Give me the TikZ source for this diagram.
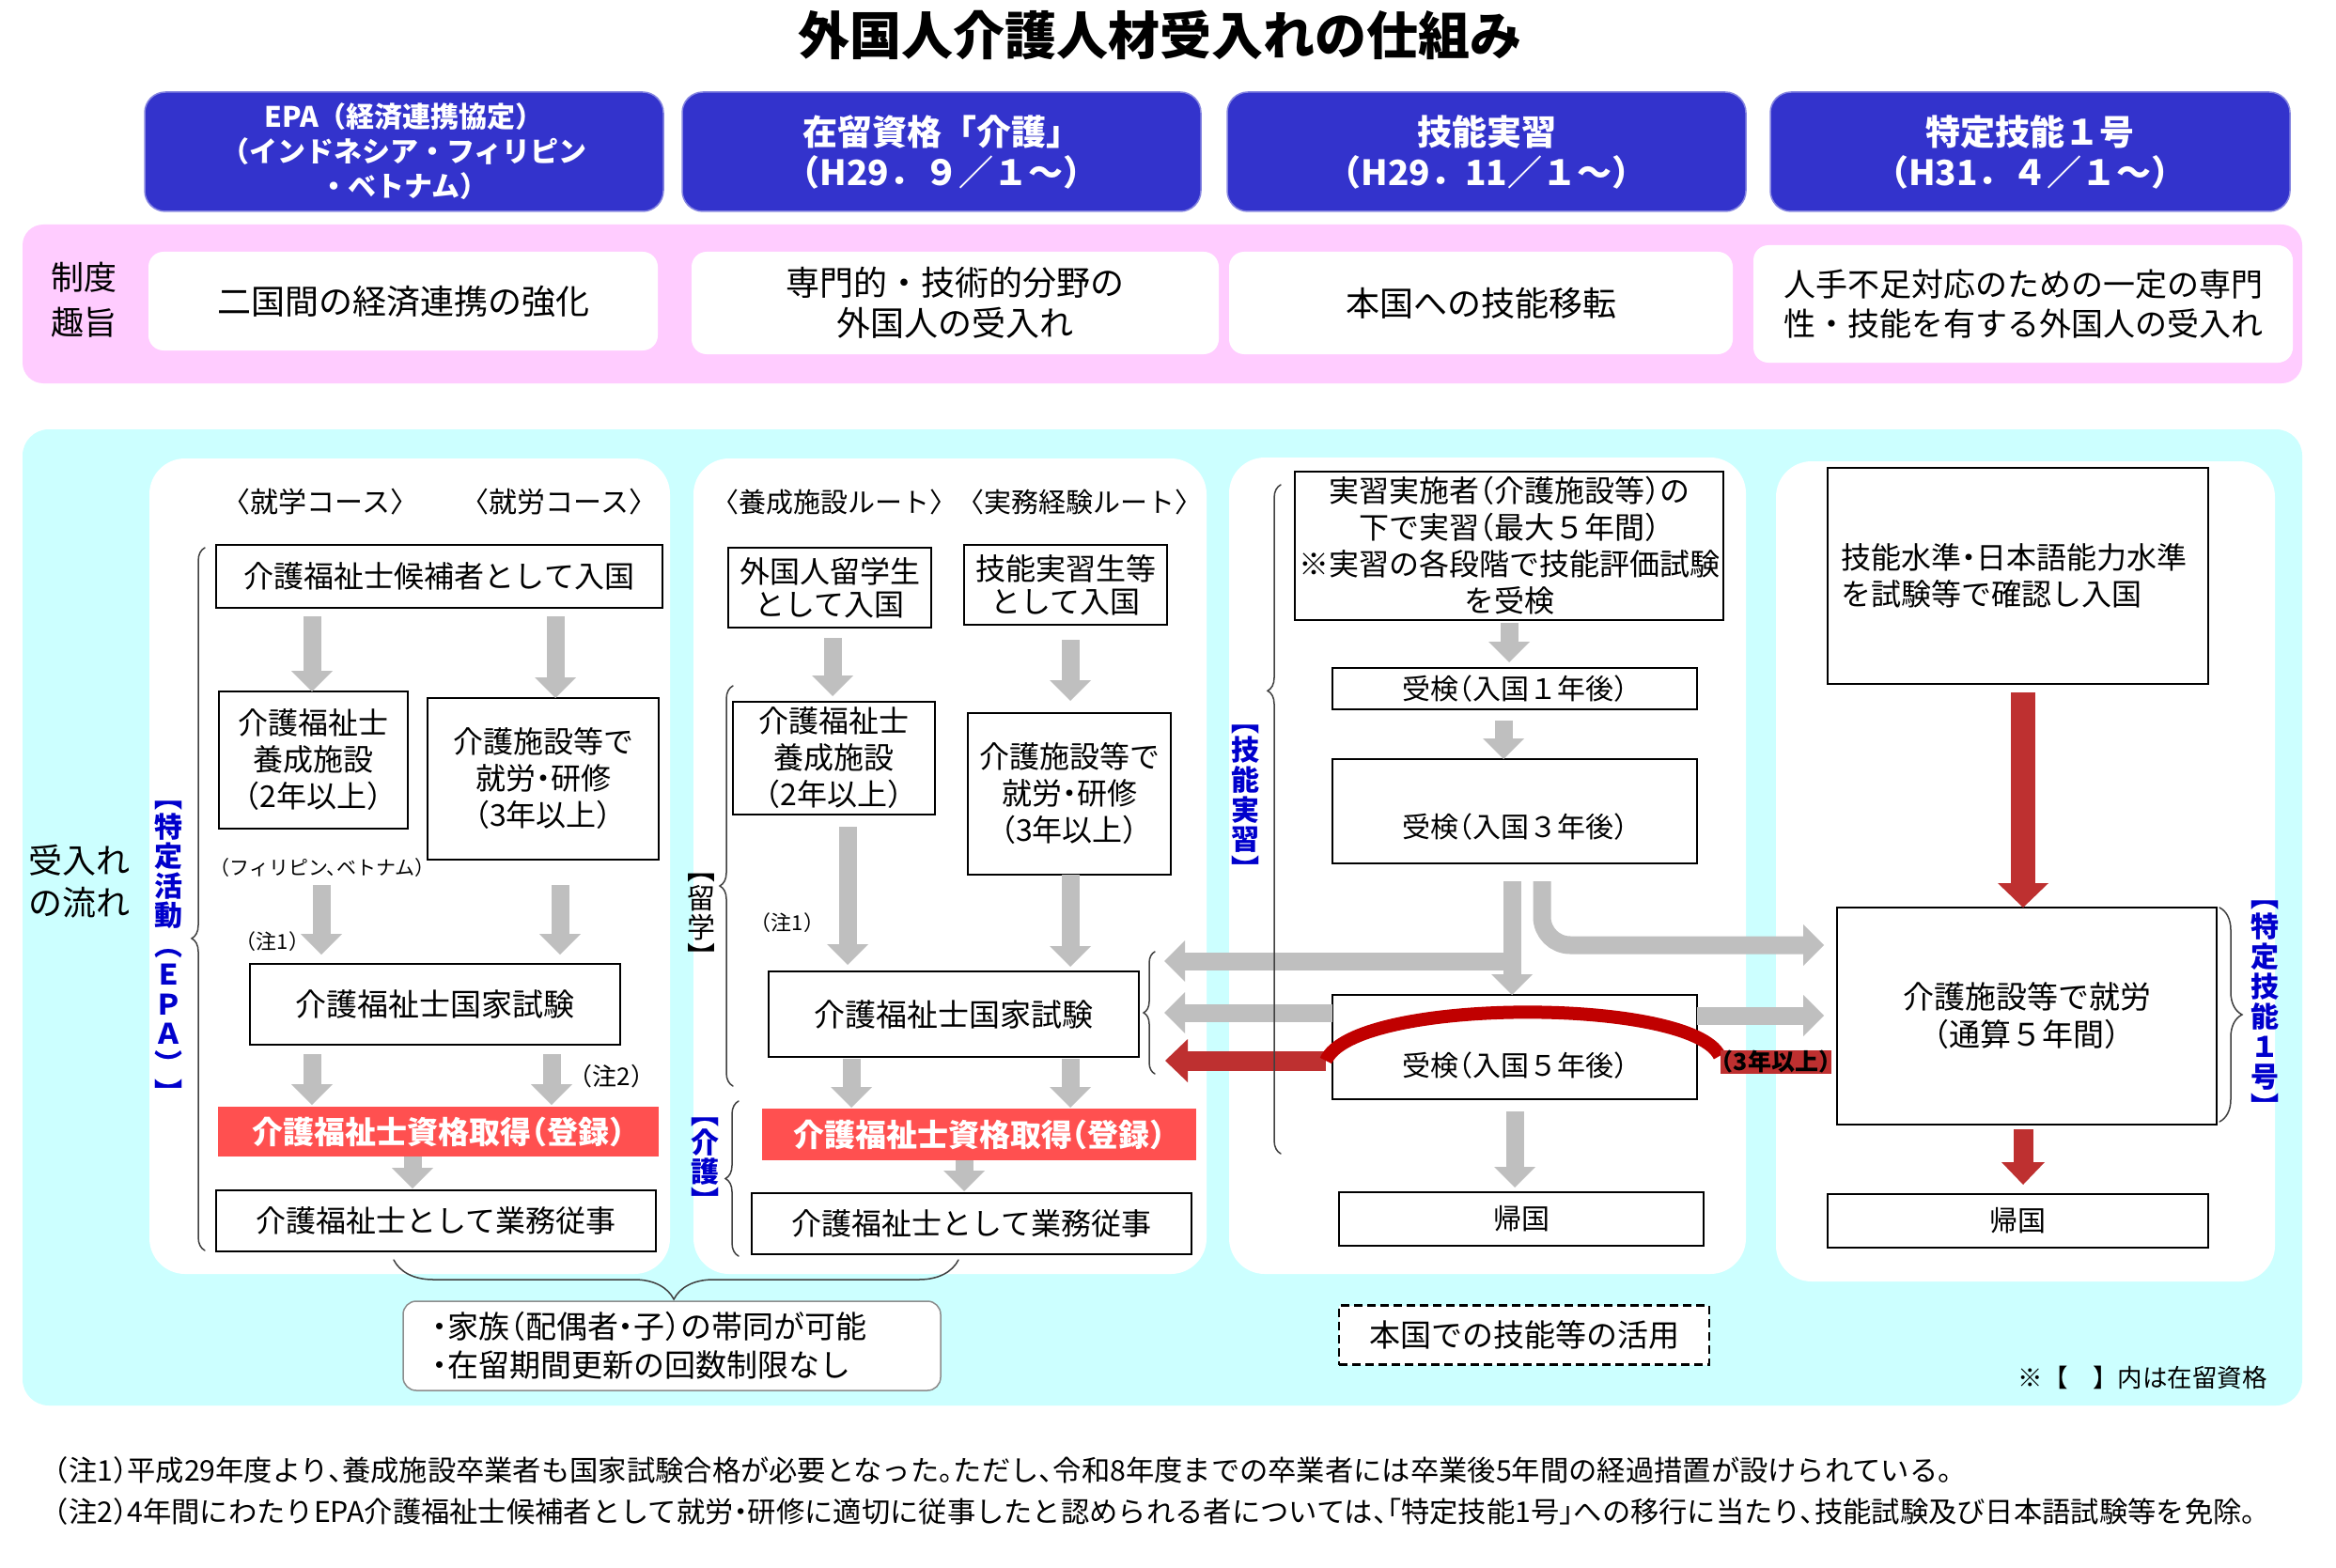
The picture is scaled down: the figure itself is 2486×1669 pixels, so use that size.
\documentclass[tikz,border=0pt]{standalone}
\usepackage{fontspec}
\setmainfont{Noto Sans CJK JP}
\newfontfamily\jh{Noto Sans CJK JP}[RawFeature=+halt]
\usetikzlibrary{arrows.meta,decorations.pathreplacing}
\newcommand\fsz[2]{\fontsize{#1pt}{#2pt}\selectfont}
\definecolor{hblue}{RGB}{51,51,204}
\definecolor{pinkbg}{RGB}{255,204,255}
\definecolor{cyanbg}{RGB}{204,255,255}
\definecolor{redbox}{RGB}{255,80,80}
\definecolor{garr}{RGB}{191,191,191}
\definecolor{darr}{RGB}{190,48,48}
\definecolor{arcred}{RGB}{192,0,0}
\definecolor{lblue}{RGB}{0,0,204}
\tikzset{
  hdr/.style={fill=hblue, draw=hblue!60!white, line width=1.5pt, rounded corners=22pt, text=white, align=center, font=\bfseries\fsz{37}{43}},
  pwbox/.style={fill=white, rounded corners=16pt, align=center, font=\fsz{36}{43}},
  panel/.style={fill=white, rounded corners=38pt},
  bx/.style={draw=black, line width=2.5pt, fill=white, align=center, font=\jh\fsz{32}{39}},
  rbox/.style={fill=redbox, text=white, align=center, font=\jh\bfseries\fsz{33}{36}},
  garrow/.style={draw=garr, line width=19pt, -{Triangle[width=44pt,length=22pt,line width=0pt]}},
  rarrow/.style={draw=darr, line width=21pt, -{Triangle[width=46pt,length=24pt,line width=0pt]}},
  bluev/.style={text=lblue, align=center, font=\bfseries\fsz{30}{31.5}},
  brc/.style={draw=black!75, line width=1.5pt, line cap=round, decorate},
  lbl/.style={font=\fsz{30}{32}},
}
\begin{document}
\begin{tikzpicture}[x=1pt,y=-1pt, every node/.style={inner sep=0pt, outer sep=0pt}]
\useasboundingbox (0,0) rectangle (2486,1669);
\fill[white] (0,0) rectangle (2486,1669);

% title
\node[font=\bfseries\fsz{55}{60}] (title) at (1234,37) {外国人介護人材受入れの仕組み};

% headers
\node[hdr, minimum width=552, minimum height=127, font=\bfseries\fsz{30}{37}] (h1) at (430,161.5) {EPA（経済連携協定）\\（インドネシア・フィリピン\\・ベトナム）};
\node[hdr, minimum width=552, minimum height=127] (h2) at (1002,161.5) {在留資格「介護」\\（H29．９／１～）};
\node[hdr, minimum width=552, minimum height=127] (h3) at (1582,161.5) {技能実習\\（H29．11／１～）};
\node[hdr, minimum width=553, minimum height=127] (h4) at (2160.5,161.5) {特定技能１号\\（H31．４／１～）};

% pink band
\fill[pinkbg, rounded corners=22pt] (24,239) rectangle (2450,408);
\node[font=\fsz{35}{48}, align=center] (seido) at (89,319) {制度\\趣旨};
\node[pwbox, minimum width=542, minimum height=105] (w1) at (429,320.5) {二国間の経済連携の強化};
\node[pwbox, minimum width=561, minimum height=109] (w2) at (1016.5,322.5) {専門的・技術的分野の\\外国人の受入れ};
\node[pwbox, minimum width=536, minimum height=109] (w3) at (1576,322.5) {本国への技能移転};
\node[pwbox, minimum width=574, minimum height=125, font=\fsz{34}{42}] (w4) at (2153,323.5) {人手不足対応のための一定の専門\\性・技能を有する外国人の受入れ};

% cyan band
\fill[cyanbg, rounded corners=28pt] (24,457) rectangle (2450,1496);
\node[font=\fsz{36}{45}, align=left] (ukeire) at (84,938) {受入れ\\の流れ};

% panels
\path[panel] (159,488) rectangle (713,1356);
\path[panel] (738,488) rectangle (1284,1356);
\path[panel] (1308,487) rectangle (1858,1356);
\path[panel] (1890,491) rectangle (2421,1364);

% ---------- panel 1 ----------
\node[lbl] (c1) at (341,534) {〈就学コース〉};
\node[lbl] (c2) at (595,534) {〈就労コース〉};
\node[bx, minimum width=475, minimum height=67] (e1) at (467.5,613.5) {介護福祉士候補者として入国};
\node[bx, minimum width=201, minimum height=146] (y1) at (333.5,809) {介護福祉士\\養成施設\\（2年以上）};
\node[bx, minimum width=246, minimum height=172] (s1) at (578,829) {介護施設等で\\就労・研修\\（3年以上）};
\node[font=\jh\fsz{21}{23}] (ph) at (343,924) {（フィリピン、ベトナム）};
\node[font=\jh\fsz{22}{24}] (n1a) at (290,1002) {（注1）};
\node[bx, minimum width=394, minimum height=86, font=\jh\fsz{33}{36}] (x1) at (463,1069) {介護福祉士国家試験};
\node[font=\jh\fsz{26}{28}] (n2) at (651,1146) {（注2）};
\node[rbox, minimum width=469, minimum height=53] (r1) at (466.5,1204.5) {介護福祉士資格取得（登録）};
\node[bx, minimum width=468, minimum height=65] (k1) at (464,1299.5) {介護福祉士として業務従事};

\coordinate (cA) at (332,0);
\coordinate (cB) at (591,0);
\coordinate (cC) at (342,0);
\coordinate (cD) at (596,0);
\coordinate (cE) at (587,0);
\coordinate (cF) at (439,0);
\draw[garrow, shorten <=9pt] (e1.south -| cA) -- (y1.north -| cA);
\draw[garrow, shorten <=9pt] (e1.south -| cB) -- (s1.north -| cB);
\draw[garrow, shorten <=60pt, shorten >=10pt] (y1.south -| cC) -- (x1.north -| cC);
\draw[garrow, shorten <=27pt, shorten >=10pt] (s1.south -| cD) -- (x1.north -| cD);
\draw[garrow, shorten <=10pt, shorten >=2pt] (x1.south -| cA) -- (r1.north -| cA);
\draw[garrow, shorten <=10pt, shorten >=2pt] (x1.south -| cE) -- (r1.north -| cE);
\draw[garrow, shorten >=2pt] (r1.south -| cF) -- (k1.north -| cF);

\node[bluev] (l1) at (179,1014) {︻\\特\\定\\活\\動\\︵\\Ｅ\\Ｐ\\Ａ\\︶\\︼};

% ---------- panel 2 ----------
\node[lbl, font=\fsz{29}{31}] (c3) at (888,534) {〈養成施設ルート〉};
\node[lbl, font=\fsz{29}{31}] (c4) at (1149,534) {〈実務経験ルート〉};
\node[bx, minimum width=216, minimum height=85, font=\jh\fsz{32}{35}] (e2) at (883,625.5) {外国人留学生\\として入国};
\node[bx, minimum width=216, minimum height=85, font=\jh\fsz{32}{35}] (e3) at (1134,622.5) {技能実習生等\\として入国};
\node[bx, minimum width=215, minimum height=120] (y2) at (887.5,807) {介護福祉士\\養成施設\\（2年以上）};
\node[bx, minimum width=216, minimum height=172] (s2) at (1138,845) {介護施設等で\\就労・研修\\（3年以上）};
\node[font=\jh\fsz{22}{24}] (n1b) at (838,982) {（注1）};
\node[bx, minimum width=394, minimum height=91, font=\jh\fsz{33}{36}] (x2) at (1015,1079.5) {介護福祉士国家試験};
\node[rbox, minimum width=462, minimum height=55] (r2) at (1042,1207.5) {介護福祉士資格取得（登録）};
\node[bx, minimum width=468, minimum height=65] (k2) at (1034,1302.5) {介護福祉士として業務従事};

\coordinate (cG) at (886,0);
\coordinate (cH) at (1139,0);
\coordinate (cI) at (902,0);
\coordinate (cJ) at (906,0);
\coordinate (cK) at (1026,0);
\draw[garrow, shorten <=11pt, shorten >=6pt] (e2.south -| cG) -- (y2.north -| cG);
\draw[garrow, shorten <=16pt, shorten >=13pt] (e3.south -| cH) -- (s2.north -| cH);
\draw[garrow, shorten <=13pt, shorten >=7pt] (y2.south -| cI) -- (x2.north -| cI);
\draw[garrow, shorten >=5pt] (s2.south -| cH) -- (x2.north -| cH);
\draw[garrow, shorten <=2pt, shorten >=1pt] (x2.south -| cJ) -- (r2.north -| cJ);
\draw[garrow, shorten <=2pt, shorten >=1pt] (x2.south -| cH) -- (r2.north -| cH);
\draw[garrow, shorten >=2pt] (r2.south -| cK) -- (k2.north -| cK);

\node[font=\fsz{30}{31}, align=center] (l2) at (746,980) {︻\\留\\学\\︼};
\node[bluev, font=\bfseries\fsz{30}{31}] (l3) at (750,1240) {︻\\介\\護\\︼};

% ---------- panel 3 ----------
\node[bx, minimum width=456, minimum height=158] (j1) at (1606,581) {実習実施者（介護施設等）の\\下で実習（最大５年間）\\※実習の各段階で技能評価試験\\を受検};
\node[bx, minimum width=388, minimum height=44, font=\jh\fsz{30}{32}] (j2) at (1612,733) {受検（入国１年後）};
\node[bx, minimum width=388, minimum height=111] (j3) at (1612,863.5) {};
\node[font=\jh\fsz{30}{32}] (j3t) at (1612,880) {受検（入国３年後）};
\node[bx, minimum width=388, minimum height=111] (j5) at (1612,1114.5) {};
\node[font=\jh\fsz{30}{32}] (j5t) at (1612,1134) {受検（入国５年後）};
\node[bx, minimum width=388, minimum height=57, font=\jh\fsz{30}{32}] (kk3) at (1619,1297.5) {帰国};
\node[draw=black, line width=2.5pt, dash pattern=on 9pt off 5pt, fill=white, minimum width=394, minimum height=63, font=\fsz{33}{35}] (dash) at (1622,1421) {本国での技能等の活用};

\coordinate (cL) at (1606,0);
\coordinate (cM) at (1600,0);
\coordinate (tk) at (1609,0);
\coordinate (ct) at (1641,0);
\coordinate (lt1) at (1239,1023);
\coordinate (lt2) at (1239,1078);
\coordinate (lt3) at (1240,1129);
\coordinate (rt1) at (1941,1006);
\coordinate (rt2) at (1941,1081);
\coordinate (arR) at (1830,1124);
\coordinate (arL) at (1411,1129);
\coordinate (cP) at (1612,0);

\draw[garrow, shorten <=3pt, shorten >=6pt] (j1.south -| cL) -- (j2.north -| cL);
\draw[garrow, shorten <=12pt] (j2.south -| cM) -- (j3.north -| cM);
\draw[garrow, shorten <=19pt] (j3.south -| tk) -- (j5.north -| tk);
\draw[garrow] (tk |- lt1) -- (lt1);
\draw[garrow, rounded corners=30pt, shorten <=19pt] (j3.south -| ct) -- (ct |- rt1) -- (rt1);
\draw[garrow] (j5.west |- lt2) -- (lt2);
\draw[garrow] (j5.east |- rt2) -- (rt2);
\draw[garrow, shorten <=13pt, shorten >=5pt] (j5.south -| cP) -- (kk3.north -| cP);

% red route
\draw[rarrow] (arL) -- (lt3);
\draw[arcred, line width=14pt] (arR) .. controls (1800,1061) and (1440,1061) .. (arL);
\node[fill=darr, font=\jh\bfseries\fsz{25}{27}, minimum height=25, inner xsep=1pt] (y3) at (1890,1130) {（3年以上）};

\node[bluev, font=\bfseries\fsz{30}{31.6}] (l4) at (1325,854) {︻\\技\\能\\実\\習\\︼};

% ---------- panel 4 ----------
\node[bx, minimum width=405, minimum height=230, text width=376, align=left] (g1) at (2147.5,613) {技能水準・日本語能力水準\\を試験等で確認し入国};
\node[bx, minimum width=404, minimum height=231, font=\jh\fsz{33}{40}] (g2) at (2157,1081.5) {介護施設等で就労\\（通算５年間）};
\node[bx, minimum width=405, minimum height=57, font=\jh\fsz{30}{32}] (g3) at (2147.5,1299.5) {帰国};
\coordinate (cN) at (2153,0);
\draw[rarrow, line width=26pt, -{Triangle[width=54pt,length=26pt,line width=0pt]}, shorten <=9pt] (g1.south -| cN) -- (g2.north -| cN);
\draw[rarrow, shorten <=5pt, shorten >=10pt] (g2.south -| cN) -- (g3.north -| cN);
\node[bluev, font=\bfseries\fsz{30}{32}] (l5) at (2410,1074) {︻\\特\\定\\技\\能\\１\\号\\︼};

% braces
\draw[brc, decoration={brace, amplitude=14pt, aspect=0.444}] (218,1331) -- (218,583);
\draw[brc, decoration={brace, amplitude=14pt, aspect=0.5}] (780,1156) -- (780,730);
\draw[brc, decoration={brace, amplitude=14pt, aspect=0.5}] (786,1337) -- (786,1172);
\draw[brc, decoration={brace, amplitude=12pt, aspect=0.5}] (1229,1143) -- (1229,1013);
\draw[brc, decoration={brace, amplitude=14pt, aspect=0.692}] (1363,1228) -- (1363,516);
\draw[brc, decoration={brace, amplitude=24pt, aspect=0.5}] (2362,966) -- (2362,1194);
\draw[brc, decoration={brace, amplitude=42pt, aspect=0.504}] (1020,1341) -- (419,1341);

% family box
\node[draw=black!45, line width=1.5pt, rounded corners=14pt, fill=white, minimum width=572, minimum height=95, text width=510, align=left, font=\jh\fsz{33}{41}] (fam) at (715,1432.5) {・家族（配偶者・子）の帯同が可能\\・在留期間更新の回数制限なし};

\node[font=\fsz{26.5}{28}] (note) at (2280,1466) {※【　】内は在留資格};

% footnotes
\node[anchor=west, font=\jh\fsz{30.3}{32}] (fn1) at (58,1565) {（注1）平成29年度より、養成施設卒業者も国家試験合格が必要となった。ただし、令和8年度までの卒業者には卒業後5年間の経過措置が設けられている。};
\node[anchor=west, font=\jh\fsz{30.3}{32}] (fn2) at (58,1609) {（注2）4年間にわたりEPA介護福祉士候補者として就労・研修に適切に従事したと認められる者については、「特定技能1号」への移行に当たり、技能試験及び日本語試験等を免除。};
\end{tikzpicture}
\end{document}
